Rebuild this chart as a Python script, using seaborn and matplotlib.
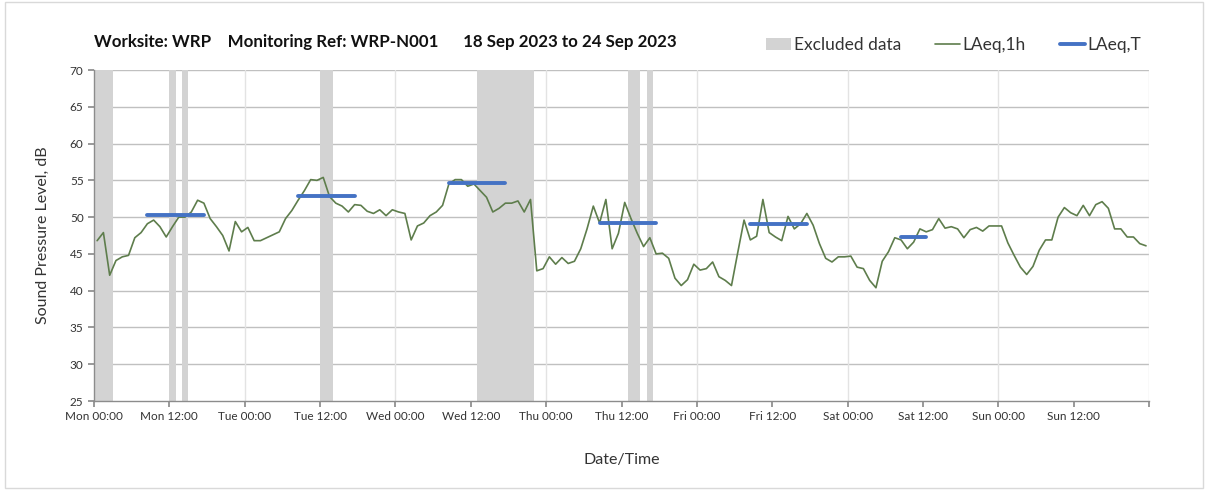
import numpy as np
import pandas as pd
import matplotlib
matplotlib.use("Agg")
import matplotlib.pyplot as plt
from matplotlib.patches import Patch, Rectangle
from matplotlib.lines import Line2D
import seaborn as sns

# hourly LAeq,1h, Mon 00:00 .. Sun 23:00
laeq_1h = [
    46.8, 47.9, 42.1, 44.1, 44.6, 44.8, 47.2, 47.9, 49.1, 49.6, 48.7, 47.3,
    48.7, 50.0, 50.0, 50.7, 52.3, 51.9, 49.8, 48.7, 47.5, 45.4, 49.4, 48.0,
    48.6, 46.8, 46.8, 47.2, 47.6, 48.0, 49.8, 50.9, 52.3, 53.6, 55.1, 55.0,
    55.4, 52.8, 51.9, 51.5, 50.7, 51.7, 51.6, 50.8, 50.5, 51.0, 50.2, 51.0,
    50.7, 50.5, 46.9, 48.8, 49.2, 50.2, 50.7, 51.6, 54.5, 55.1, 55.1, 54.2,
    54.5, 53.6, 52.7, 50.7, 51.2, 51.9, 51.9, 52.2, 50.7, 52.4, 42.7, 43.0,
    44.6, 43.6, 44.5, 43.7, 44.0, 45.7, 48.4, 51.5, 49.2, 52.4, 45.7, 47.8,
    52.0, 49.8, 47.8, 46.0, 47.2, 45.0, 45.1, 44.4, 41.7, 40.7, 41.5, 43.6,
    42.8, 43.0, 43.9, 41.9, 41.4, 40.7, 45.2, 49.6, 46.9, 47.4, 52.4, 47.9,
    47.3, 46.8, 50.1, 48.4, 49.1, 50.5, 48.9, 46.4, 44.4, 43.9, 44.6, 44.6,
    44.7, 43.2, 43.0, 41.4, 40.4, 44.0, 45.3, 47.2, 46.9, 45.7, 46.6, 48.4,
    48.0, 48.3, 49.8, 48.5, 48.7, 48.4, 47.2, 48.3, 48.6, 48.1, 48.8, 48.8,
    48.8, 46.5, 44.8, 43.2, 42.2, 43.3, 45.5, 46.9, 46.9, 50.0, 51.3, 50.6,
    50.2, 51.6, 50.2, 51.7, 52.1, 51.2, 48.4, 48.4, 47.3, 47.3, 46.4, 46.1,
]

excluded_hours = [0, 1, 2, 12, 14, 36, 37, 61, 62, 63, 64, 65, 66, 67, 68, 69,
                  85, 86, 88]

# daytime LAeq,T periods: first hour, last hour, level
period_start = [8, 32, 56, 80, 104, 128]
period_end = [17, 41, 65, 89, 113, 132]
period_laeq = [50.3, 52.9, 54.6, 49.2, 49.1, 47.3]

days = ["Mon", "Tue", "Wed", "Thu", "Fri", "Sat", "Sun"]
times = ["00:00", "12:00"]

green = "#5e7d4c"
blue = "#4472c4"
band = "#d3d3d3"

sns.set_theme(style="white")
plt.rcParams["font.family"] = ["Lato", "DejaVu Sans"]

fig = plt.figure(figsize=(12.08, 4.9), dpi=100)
ax = fig.add_axes([0.0778, 0.1816, 0.8735, 0.6755])
fig.patches.append(Rectangle((0.004, 0.004), 0.992, 0.992, transform=fig.transFigure,
                             fill=False, edgecolor="#d9d9d9", lw=1))

# excluded bands (merge consecutive hours)
groups = []
for h in excluded_hours:
    if groups and h == groups[-1][1]:
        groups[-1][1] = h + 1
    else:
        groups.append([h, h + 1])
for a, b in groups:
    ax.axvspan(a, b, color=band, lw=0, zorder=1)

hourly = pd.DataFrame({"hour": np.arange(len(laeq_1h)) + 0.5, "laeq": laeq_1h})
sns.lineplot(data=hourly, x="hour", y="laeq", color=green, lw=1.2, ax=ax, zorder=3)

rows = []
for k, (s, e, v) in enumerate(zip(period_start, period_end, period_laeq)):
    for h in (s, e):
        rows.append({"period": k, "hour": h + 0.5, "laeq": v})
periods = pd.DataFrame(rows)
sns.lineplot(data=periods, x="hour", y="laeq", units="period", estimator=None,
             color=blue, lw=2.8, ax=ax, zorder=4, solid_capstyle="round")

ax.set_xlim(0, 168)
ax.set_ylim(25, 70)
ax.set_yticks(np.arange(25, 71, 5))
ax.set_xticks(np.arange(0, 169, 12))
labels = [f"{d} {t}" for d in days for t in times] + [""]
ax.set_xticklabels(labels)

for y in np.arange(30, 71, 5):
    ax.axhline(y, color="#c0c0c0", lw=1, zorder=0)
for x in np.arange(24, 169, 24):
    ax.axvline(x, color="#e3e3e3", lw=1, zorder=0)

for side in ["top", "right"]:
    ax.spines[side].set_visible(False)
for side in ["left", "bottom"]:
    ax.spines[side].set_color("#8c8c8c")
    ax.spines[side].set_linewidth(1)
ax.tick_params(axis="both", which="major", length=4, color="#8c8c8c",
               labelsize=8.5, labelcolor="#333333", left=True, bottom=True)

ax.set_xlabel("Date/Time", fontsize=11.5, color="#333333", labelpad=22)
ax.set_ylabel("Sound Pressure Level, dB", fontsize=11.5, color="#333333", labelpad=14)

fig.text(0.078, 0.914, "Worksite: WRP    Monitoring Ref: WRP-N001      18 Sep 2023 to 24 Sep 2023",
         fontsize=12.2, fontweight="bold", color="#111111", va="center")

handles = [Patch(facecolor=band, edgecolor="none", label="Excluded data"),
           Line2D([], [], color=green, lw=1.2, label="LAeq,1h"),
           Line2D([], [], color=blue, lw=2.8, label="LAeq,T")]
fig.legend(handles=handles, loc="center right", bbox_to_anchor=(0.9576, 0.908), ncol=3,
           frameon=False, fontsize=12.5, handlelength=1.45, handletextpad=0.15,
           columnspacing=1.95, labelcolor="#333333")

fig.savefig("out.png", dpi=100)
